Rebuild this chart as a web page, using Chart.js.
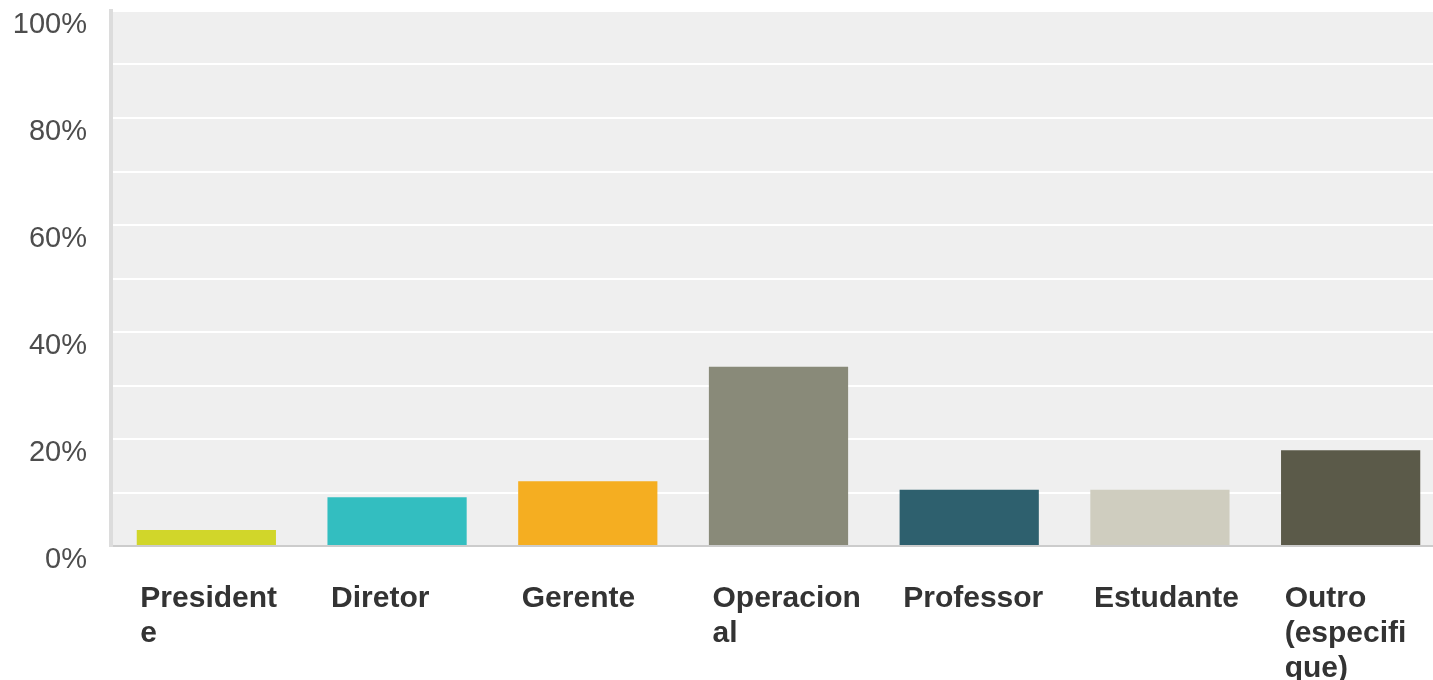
<!doctype html>
<html>

<head>
	<title>Cargo</title>
	<meta charset="utf-8">
	<script src="https://cdn.jsdelivr.net/npm/chart.js@4.4.0/dist/chart.umd.min.js"></script>
	<style>
		body {
			margin: 0;
			overflow: hidden;
			background: #ffffff;
		}

		#holder {
			width: 1433px;
			height: 680px;
			overflow: hidden;
		}
	</style>
</head>

<body>
	<div id="holder">
		<canvas id="chart-area" width="1446" height="680"></canvas>
	</div>
	<script>
		// categorias (quebradas como no original)
		var categories = [
			['President', 'e'],
			['Diretor'],
			['Gerente'],
			['Operacion', 'al'],
			['Professor'],
			['Estudante'],
			['Outro', '(especifi', 'que)']
		];
		var values = [3.0, 9.1, 12.1, 33.5, 10.5, 10.5, 17.9];
		var barColors = ['#d1d62a', '#33bec0', '#f5ae21', '#898a79', '#2e606e', '#cfcdbf', '#5b5a49'];
		var tickLabels = ['0%', '20%', '40%', '60%', '80%', '100%'];

		// fundo cinza da area do grafico
		var plotBackground = {
			id: 'plotBackground',
			beforeDraw: function (chart) {
				var a = chart.chartArea;
				var ctx = chart.ctx;
				ctx.save();
				ctx.fillStyle = '#efefef';
				ctx.fillRect(a.left, a.top, a.right - a.left, a.bottom - a.top);
				ctx.restore();
			}
		};

		var config = {
			type: 'bar',
			data: {
				labels: categories,
				datasets: [{
					data: values,
					backgroundColor: barColors,
					categoryPercentage: 1,
					barPercentage: 0.73
				}]
			},
			options: {
				responsive: false,
				animation: false,
				devicePixelRatio: 1,
				layout: {
					padding: { top: 11, left: 0, right: 0, bottom: 0 }
				},
				plugins: {
					legend: { display: false },
					tooltip: { enabled: false }
				},
				scales: {
					x: {
						grid: { display: false },
						border: { color: '#cccccc', width: 2 },
						ticks: {
							maxRotation: 0,
							autoSkip: false,
							align: 'start',
							labelOffset: -66,
							padding: 27,
							color: '#333333',
							font: { family: 'Liberation Sans', size: 30, weight: 'bold', lineHeight: 1.17 }
						},
						afterFit: function (scale) {
							scale.height = 134;
							scale.paddingLeft = 0;
							scale.paddingRight = 0;
						}
					},
					y: {
						min: 0,
						max: 100,
						grid: { color: '#ffffff', lineWidth: 2, drawTicks: false },
						border: { color: '#dcdcdc', width: 4 },
						ticks: {
							stepSize: 10,
							padding: 24,
							labelOffset: 14,
							color: '#4d4d4d',
							font: { family: 'Liberation Sans', size: 29 },
							callback: function (v) {
								return v % 20 === 0 ? tickLabels[v / 20] : '';
							}
						},
						afterFit: function (scale) {
							scale.width = 111;
							scale.paddingTop = 0;
							scale.paddingBottom = 0;
						}
					}
				}
			},
			plugins: [plotBackground]
		};

		window.onload = function () {
			var ctx = document.getElementById('chart-area').getContext('2d');
			window.myBar = new Chart(ctx, config);
		};
	</script>
</body>

</html>
